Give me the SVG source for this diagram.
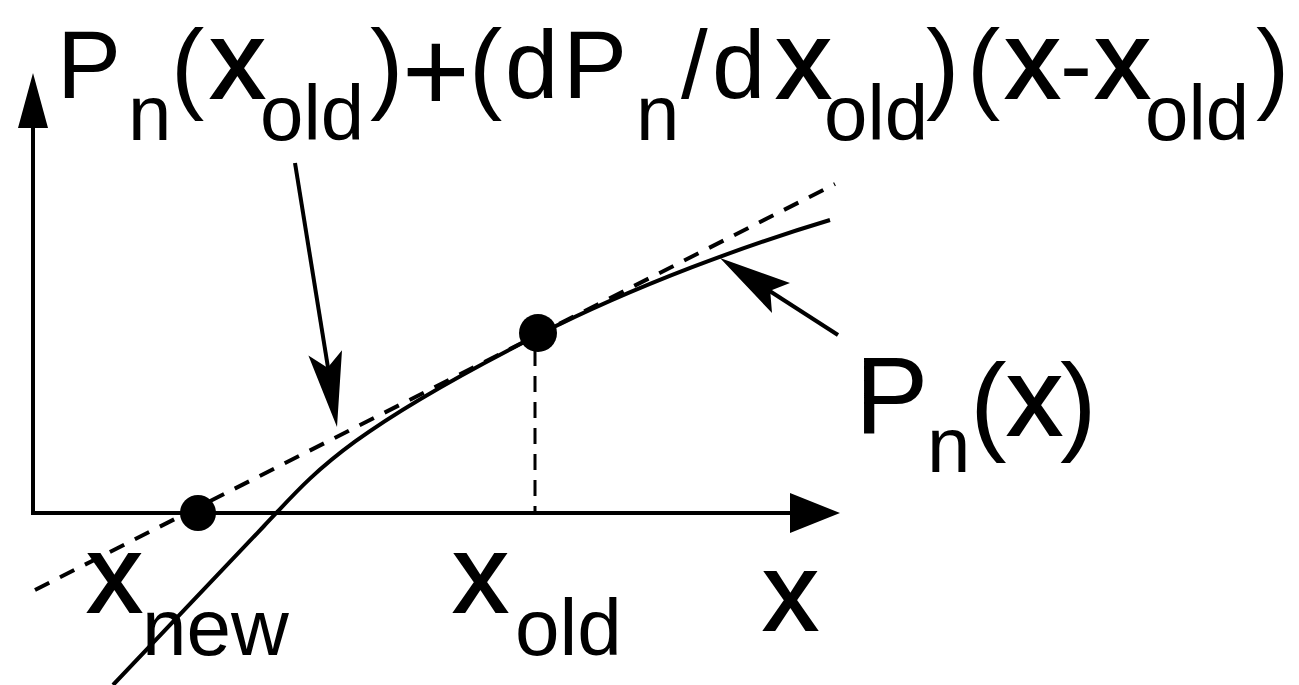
<svg xmlns="http://www.w3.org/2000/svg" width="1299" height="685" viewBox="0 0 1299 685">
<style>
.t{font-family:"Liberation Sans",Arial,sans-serif;fill:#000}
.m{font-size:96px}
.p{font-size:100px}
.s{font-size:78px}
.xx{font-size:110px;stroke:#000;stroke-width:2}
.ln{stroke:#000;stroke-width:4;fill:none}
.dash{stroke:#000;stroke-width:4;fill:none;stroke-dasharray:16 12}
</style>
<rect width="1299" height="685" fill="#fff"/>
<g id="axes">
<line class="ln" x1="33" y1="514" x2="33" y2="120"/>
<polygon points="33,73 18,128 48,128" fill="#000"/>
<line class="ln" x1="31" y1="513" x2="795" y2="513"/>
<polygon points="840,513 790,493 790,533" fill="#000"/>
</g>
<g id="connectors">
<line class="dash" x1="35" y1="590" x2="835" y2="184"/>
<line stroke="#000" stroke-width="3" stroke-dasharray="16 10" x1="535" y1="350" x2="535" y2="511"/>
<path class="ln" d="M113,685 L264,526 C312,476 338,436.5 538,335 C638,284.25 750,244 830,220"/>
<line class="ln" x1="295" y1="163" x2="330" y2="380"/>
<polygon points="337,427 308.4,355.6 327.6,367.7 342,350.2" fill="#000"/>
<line class="ln" x1="838" y1="335" x2="765" y2="288"/>
<polygon points="720,258 790,283 770.2,290.8 772,313" fill="#000"/>
</g>
<g id="point-xnew"><circle cx="198" cy="513" r="18" fill="#000"/></g>
<g id="point-xold"><circle cx="538" cy="333" r="19" fill="#000"/></g>
<g id="formula">
<text class="t m" x="57" y="98">P</text>
<text class="t s" x="128" y="140">n</text>
<text class="t p" x="171" y="100">(</text>
<text class="t xx" x="210" y="98">x</text>
<text class="t s" x="260" y="140">old</text>
<text class="t p" x="370" y="100">)</text>
<text class="t" x="402" y="111" font-size="116">+</text>
<text class="t p" x="469" y="100">(</text>
<text class="t m" x="505" y="98">d</text>
<text class="t m" x="563" y="98">P</text>
<text class="t s" x="636" y="140">n</text>
<text class="t m" x="681" y="98">/</text>
<text class="t m" x="712" y="98">d</text>
<text class="t xx" x="776" y="98">x</text>
<text class="t s" x="824" y="140">old</text>
<text class="t p" x="926" y="100">)</text>
<text class="t p" x="967" y="100">(</text>
<text class="t xx" x="1005" y="98">x</text>
<text class="t m" x="1060" y="98">-</text>
<text class="t xx" x="1095" y="98">x</text>
<text class="t s" x="1145" y="140">old</text>
<text class="t p" x="1256" y="100">)</text>
</g>
<g id="label-xnew">
<text class="t xx" x="87" y="612">x</text>
<text class="t" x="142" y="655" font-size="80">new</text>
</g>
<g id="label-xold">
<text class="t xx" x="453" y="612">x</text>
<text class="t" x="515" y="655" font-size="80">old</text>
</g>
<g id="label-x">
<text class="t xx" x="763" y="630">x</text>
</g>
<g id="label-pnx">
<text class="t" x="855" y="433" font-size="110">P</text>
<text class="t" x="927" y="472" font-size="78">n</text>
<text class="t" x="970" y="440" font-size="110">(</text>
<text class="t xx" x="1007" y="435" font-size="112">x</text>
<text class="t" x="1060" y="440" font-size="110">)</text>
</g>
</svg>
